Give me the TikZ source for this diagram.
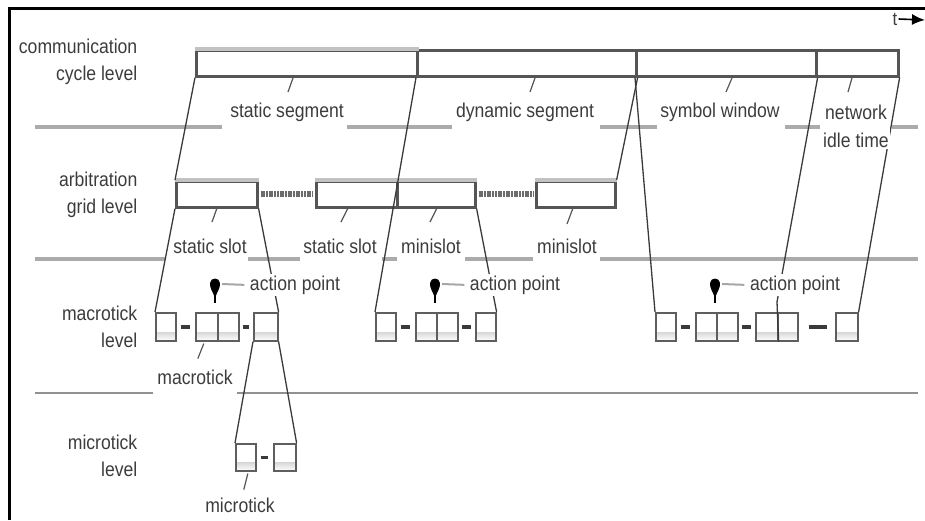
\documentclass[tikz,border=0pt]{standalone}
\usepackage{fontspec}
\setmainfont{Liberation Sans}[FakeStretch=0.88]
\usetikzlibrary{arrows.meta,calc}
\definecolor{txt}{HTML}{3C3C3C}
\definecolor{boxline}{HTML}{555555}
\definecolor{lightedge}{HTML}{C2C2C2}
\definecolor{sepgray}{HTML}{ABABAB}
\definecolor{connc}{HTML}{3A3A3A}
\definecolor{shade}{HTML}{BDBDBD}
\definecolor{mtline}{HTML}{5E5E5E}
\begin{document}
\begin{tikzpicture}[x=1pt,y=-1pt,
  lbl/.style={font=\fontsize{20}{27}\selectfont, text=txt, inner sep=1.5pt},
  seg/.style={draw=boxline, line width=2.6pt, minimum height=26pt, inner sep=0pt, anchor=north west},
  mtbox/.style={draw=mtline, line width=1.6pt, minimum height=28pt, inner sep=0pt, anchor=north west,
    path picture={\fill[shade] (path picture bounding box.south west) rectangle ([yshift=8pt]path picture bounding box.south east);}},
  link/.style={draw=connc, line width=1.3pt},
  leader/.style={draw=boxline, line width=1.2pt},
  sep/.style={draw=sepgray, line width=4pt},
  thinsep/.style={draw=sepgray!85!black, line width=1.8pt},
  mtdash/.style={draw=connc, line width=3.5pt},
  gapdash/.style={draw=gray!85!black, line width=6pt, dash pattern=on 2pt off 0.7pt, shorten <=2pt, shorten >=2pt},
  apline/.style={draw=gray!70, line width=2pt, shorten >=4pt},
  pinmark/.pic={\fill (0,14) .. controls (-2,8) and (-5.5,4) .. (-5,-1) .. controls (-4.5,-7) and (4.5,-7) .. (5,-1) .. controls (5.5,4) and (2,8) .. (0,14) -- cycle;
                \draw[line width=1.2pt] (0,10) -- (0,19);}
]
\useasboundingbox (0,0) rectangle (925,520);
% frame
\draw[line width=3pt] (9,520) -- (9,8.5) -- (925,8.5);

% separators
\draw[sep] (35,127) -- (222,127);
\draw[sep] (347,127) -- (452,127);
\draw[sep] (600,127) -- (657,127);
\draw[sep] (785,127) -- (820,127);
\draw[sep] (892,127) -- (918,127);
\draw[sep] (35,259) -- (165,259);
\draw[sep] (248,259) -- (300,259);
\draw[sep] (382,259) -- (397,259);
\draw[sep] (465,259) -- (533,259);
\draw[sep] (600,259) -- (918,259);
\draw[thinsep] (35,393) -- (153,393);
\draw[thinsep] (237,393) -- (918,393);

% level labels
\node[lbl, align=right, anchor=east] (lvComm) at (139,61.5) {communication\\cycle level};
\node[lbl, align=right, anchor=east] (lvArb) at (139,194.5) {arbitration\\grid level};
\node[lbl, align=right, anchor=east] (lvMac) at (139,326.5) {macrotick\\level};
\node[lbl, align=right, anchor=east] (lvMic) at (139,456) {microtick\\level};

% time arrow
\node[lbl, font=\fontsize{19}{19}\selectfont, inner sep=1pt] (tlab) at (895,19) {t};
\coordinate (tend) at (925,20);
\draw[line width=1.6pt, -{Latex[length=13pt,width=11pt]}] (tlab.east) -- (tend);

% communication cycle
\node[seg, minimum width=221pt] (segS) at (195,49) {};
\node[seg, minimum width=219pt] (segD) at (416,49) {};
\node[seg, minimum width=180pt] (segY) at (635,49) {};
\node[seg, minimum width=82pt] (segN) at (815,49) {};
\draw[lightedge, line width=4pt] (segS.north west) -- (segS.north east);

% arbitration grid
\node[seg, minimum width=81pt] (slotA) at (175,180) {};
\node[seg, minimum width=81pt] (slotB) at (315,180) {};
\node[seg, minimum width=78pt] (miniA) at (396,180) {};
\node[seg, minimum width=79pt] (miniB) at (535,180) {};
\foreach \b in {slotA,slotB,miniA,miniB}
  \draw[lightedge, line width=4pt] (\b.north west) -- (\b.north east);
\draw[gapdash] (slotA.east) -- (slotB.west);
\draw[gapdash] (miniA.east) -- (miniB.west);

% macroticks
\node[mtbox, minimum width=20pt] (m1a) at (155,312) {};
\node[mtbox, minimum width=22pt] (m1b) at (195,312) {};
\node[mtbox, minimum width=21pt] (m1c) at (217,312) {};
\node[mtbox, minimum width=24pt] (m1d) at (253,312) {};
\node[mtbox, minimum width=20pt] (m2a) at (375,312) {};
\node[mtbox, minimum width=21pt] (m2b) at (415,312) {};
\node[mtbox, minimum width=21pt] (m2c) at (436,312) {};
\node[mtbox, minimum width=20pt] (m2d) at (475,312) {};
\node[mtbox, minimum width=20pt] (m3a) at (655,312) {};
\node[mtbox, minimum width=21pt] (m3b) at (695,312) {};
\node[mtbox, minimum width=21pt] (m3c) at (716,312) {};
\node[mtbox, minimum width=22pt] (m3d) at (755,312) {};
\node[mtbox, minimum width=20pt] (m3e) at (777,312) {};
\node[mtbox, minimum width=22pt] (m3f) at (835,312) {};
\draw[mtdash, shorten <=4pt, shorten >=5pt] (m1a.east) -- (m1b.west);
\draw[mtdash, shorten <=3pt, shorten >=4pt] (m1c.east) -- (m1d.west);
\draw[mtdash, shorten <=4pt, shorten >=5pt] (m2a.east) -- (m2b.west);
\draw[mtdash, shorten <=3pt, shorten >=4pt] (m2c.east) -- (m2d.west);
\draw[mtdash, shorten <=4pt, shorten >=5pt] (m3a.east) -- (m3b.west);
\draw[mtdash, shorten <=3pt, shorten >=4pt] (m3c.east) -- (m3d.west);
\draw[mtdash, shorten <=10pt, shorten >=8pt] (m3e.east) -- (m3f.west);

% microticks
\node[mtbox, minimum width=20pt, minimum height=27pt] (u1) at (235,443) {};
\node[mtbox, minimum width=22pt, minimum height=27pt] (u2) at (273,443) {};
\draw[mtdash, shorten <=4pt, shorten >=5pt] (u1.east) -- (u2.west);

% zoom connectors
\coordinate (split) at (777,302);
\draw[link] (segS.south west) -- (slotA.north west);
\draw[link] (slotA.south west) -- (m1a.north west);
\draw[link] (slotA.south east) -- (m1d.north east);
\draw[link] (segD.south west) -- (m2a.north west);
\draw[link] (miniA.south east) -- (m2d.north east);
\draw[link] (miniB.north east) -- (segD.south east);
\draw[link] (segY.south west) -- (m3a.north west);
\draw[link] (segY.south east) -- (split) -- (m3d.south east);
\draw[link] (segN.south east) -- (m3f.north east);
\draw[link] (m1d.south west) -- (u1.north west);
\draw[link] (m1d.south east) -- (u2.north east);

% labels
\node[lbl] (lS) at (287,112) {static segment};
\node[lbl] (lD) at (525,112) {dynamic segment};
\node[lbl] (lY) at (720,112) {symbol window};
\node[lbl, align=center, fill=white, font=\fontsize{20}{28}\selectfont] (lN) at (856,126) {network\\idle time};
\node[lbl] (lsA) at (210,246) {static slot};
\node[lbl] (lsB) at (340,246) {static slot};
\node[lbl] (lmA) at (431,246) {minislot};
\node[lbl] (lmB) at (567,246) {minislot};
\node[lbl, fill=white] (ap1) at (295,285) {action point};
\node[lbl, fill=white] (ap2) at (515,285) {action point};
\node[lbl, fill=white] (ap3) at (795,285) {action point};
\node[lbl] (lmac) at (195,377) {macrotick};
\node[lbl] (lmic) at (240,505) {microtick};

% leaders
\draw[leader] (293,78) -- (288,92);
\draw[leader] (535,78) -- (530,92);
\draw[leader] (732,78) -- (726,92);
\draw[leader] (852,78) -- (848,92);
\draw[leader] (217,208) -- (212,222);
\draw[leader] (348,208) -- (341,222);
\draw[leader] (437,208) -- (430,222);
\draw[leader] (573,208) -- (567,224);
\draw[leader] (m1b.south) ++(-3,2) -- ++(-6,15);
\draw[leader] (u1.south) ++(2,2) -- ++(-4,16);

% action point markers
\coordinate (pin1) at (215,284);
\coordinate (pin2) at (435,284);
\coordinate (pin3) at (715,284);
\pic at (pin1) {pinmark};
\pic at (pin2) {pinmark};
\pic at (pin3) {pinmark};
\draw[apline] ([xshift=7pt]pin1) -- (ap1.west);
\draw[apline] ([xshift=7pt]pin2) -- (ap2.west);
\draw[apline] ([xshift=7pt]pin3) -- (ap3.west);
\end{tikzpicture}
\end{document}
